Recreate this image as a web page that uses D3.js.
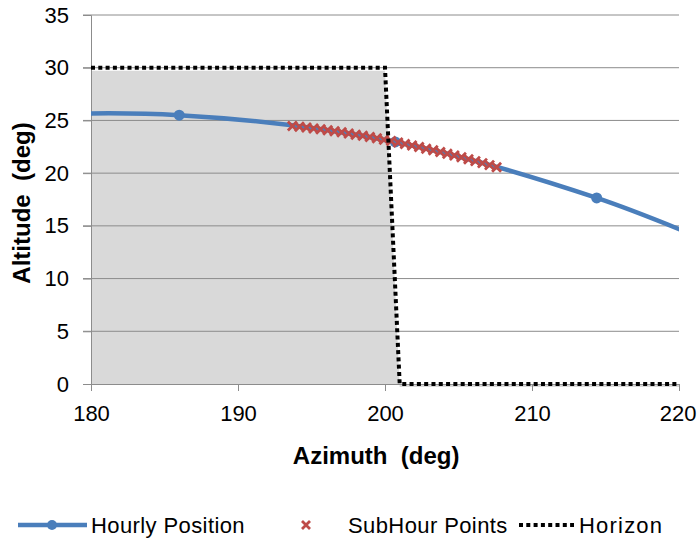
<!DOCTYPE html>
<html>
<head>
<meta charset="utf-8">
<script src="https://cdn.jsdelivr.net/npm/d3@7"></script>
<style>
  body { margin: 0; background: #fff; }
  svg text { font-family: "Liberation Sans", Arial, sans-serif; fill: #000; }
</style>
</head>
<body>
<div id="chart"></div>
<script>
// hourly sun positions (first/last lie outside the axes and get clipped)
const hourlyAz  = [157.5, 171.6, 186.0, 200.7, 214.4, 227.5, 239.0];
const hourlyAlt = [24.0, 25.3, 25.5, 22.96, 17.65, 10.5, 5.0];

// sub-hour points around the middle hour
const subAz  = [193.70, 194.18, 194.66, 195.14, 195.62, 196.10, 196.57, 197.05, 197.53, 198.01,
                198.49, 198.97, 199.45, 199.93, 200.41, 200.89, 201.36, 201.84, 202.32, 202.80,
                203.28, 203.76, 204.24, 204.72, 205.20, 205.68, 206.15, 206.63, 207.11, 207.59];
const subAlt = [24.48, 24.41, 24.33, 24.24, 24.16, 24.06, 23.97, 23.87, 23.76, 23.65,
                23.54, 23.42, 23.30, 23.17, 23.04, 22.91, 22.77, 22.62, 22.48, 22.32,
                22.17, 22.01, 21.84, 21.67, 21.50, 21.32, 21.14, 20.95, 20.76, 20.56];

// horizon profile
const horizonAz  = [180, 200, 201, 220];
const horizonAlt = [30, 30, 0, 0];

const xTicks = [180, 190, 200, 210, 220];
const yTicks = [0, 5, 10, 15, 20, 25, 30, 35];

const width = 697, height = 540;
const margin = { top: 15, right: 18, bottom: 156, left: 91 };
const innerWidth = width - margin.left - margin.right;
const innerHeight = height - margin.top - margin.bottom;

const blue = "#4a7ebb", red = "#be4b48";
const font = '"Liberation Sans", Arial, sans-serif';

const svgRoot = d3.select("#chart").append("svg")
    .attr("width", width)
    .attr("height", height);

const svg = svgRoot.append("g")
    .attr("transform", "translate(" + margin.left + "," + margin.top + ")");

svg.append("defs").append("clipPath").attr("id", "plotclip")
    .append("rect").attr("x", 0).attr("y", -5).attr("width", innerWidth).attr("height", innerHeight + 5);

var x = d3.scaleLinear().domain([180, 220]).range([0, innerWidth]);
var y = d3.scaleLinear().domain([0, 35]).range([innerHeight, 0]);

const hourly = hourlyAz.map((a, i) => ({ az: a, alt: hourlyAlt[i] }));
const sub = subAz.map((a, i) => ({ az: a, alt: subAlt[i] }));
const horizon = horizonAz.map((a, i) => ({ az: a, alt: horizonAlt[i] }));

// gray area under the horizon
svg.append("path")
    .datum(horizon)
    .attr("fill", "#d9d9d9")
    .attr("d", d3.area().x(d => x(d.az)).y0(y(0)).y1(d => y(d.alt) + 3));

// horizontal gridlines
svg.append("g")
    .selectAll("line")
    .data(yTicks.filter(d => d > 0))
    .enter().append("line")
    .attr("x1", -8).attr("x2", innerWidth)
    .attr("y1", d => y(d)).attr("y2", d => y(d))
    .attr("stroke", "#8c8c8c").attr("stroke-width", 1);

// Y axis
const yAxis = svg.append("g")
    .call(d3.axisLeft(y).tickValues(yTicks).tickSize(8).tickPadding(14).tickFormat(d3.format("d")));
yAxis.attr("font-family", font).attr("font-size", 22);
yAxis.select(".domain").attr("stroke", "#8c8c8c");
yAxis.selectAll(".tick line").attr("stroke", "#8c8c8c");

// X axis
const xAxis = svg.append("g")
    .attr("transform", "translate(0," + innerHeight + ")")
    .call(d3.axisBottom(x).tickValues(xTicks).tickSize(7).tickPadding(14).tickFormat(d3.format("d")));
xAxis.attr("font-family", font).attr("font-size", 22);
xAxis.select(".domain").attr("stroke", "#8c8c8c");
xAxis.selectAll(".tick line").attr("stroke", "#8c8c8c");
// keep the last tick label inside the page
xAxis.selectAll(".tick text").filter(d => d === 220).attr("text-anchor", "end").attr("dx", "17");

// axis titles
svg.append("text")
    .attr("text-anchor", "middle")
    .attr("x", x(199.4))
    .attr("y", innerHeight + 80)
    .style("font-size", "24px")
    .style("font-weight", "bold")
    .style("white-space", "pre")
    .text("Azimuth  (deg)");

svg.append("text")
    .attr("text-anchor", "middle")
    .attr("transform", "rotate(-90)")
    .attr("x", -(203 - margin.top))
    .attr("y", -margin.left + 30)
    .style("font-size", "24px")
    .style("font-weight", "bold")
    .style("white-space", "pre")
    .text("Altitude  (deg)");

// hourly position line
const plot = svg.append("g").attr("clip-path", "url(#plotclip)");

var line = d3.line()
    .x(d => x(d.az))
    .y(d => y(d.alt))
    .curve(d3.curveCatmullRom.alpha(0.5));

plot.append("path")
    .datum(hourly)
    .attr("fill", "none")
    .attr("stroke", blue)
    .attr("stroke-width", 4.5)
    .attr("d", line);

plot.append("g")
    .selectAll("circle")
    .data(hourly)
    .enter().append("circle")
    .attr("cx", d => x(d.az))
    .attr("cy", d => y(d.alt))
    .attr("r", 5.5)
    .attr("fill", blue);

// sub-hour crosses
const cross = function (sel, s) {
    sel.append("path")
        .attr("d", `M${-s},${-s}L${s},${s}M${-s},${s}L${s},${-s}`)
        .attr("stroke", red)
        .attr("stroke-width", 2.8)
        .attr("fill", "none");
};
plot.append("g")
    .selectAll("g")
    .data(sub)
    .enter().append("g")
    .attr("transform", d => "translate(" + x(d.az) + "," + y(d.alt) + ")")
    .each(function () { cross(d3.select(this), 4.5); });

// horizon dotted line
svg.append("path")
    .datum(horizon)
    .attr("fill", "none")
    .attr("stroke", "#000")
    .attr("stroke-width", 4)
    .attr("stroke-dasharray", "4,3.3")
    .attr("d", d3.line().x(d => x(d.az)).y(d => y(d.alt)));

// legend
const legend = svgRoot.append("g").attr("transform", "translate(0,525)");
legend.append("line").attr("x1", 18).attr("x2", 87).attr("y1", 0).attr("y2", 0)
    .attr("stroke", blue).attr("stroke-width", 4.5);
legend.append("circle").attr("cx", 52).attr("cy", 0).attr("r", 5).attr("fill", blue);
legend.append("text").attr("x", 91).attr("y", 8).style("font-size", "22px")
    .style("letter-spacing", "0.4px").text("Hourly Position");

legend.append("g").attr("transform", "translate(306,0)").call(g => cross(g, 4));
legend.append("text").attr("x", 348).attr("y", 8).style("font-size", "22px")
    .style("letter-spacing", "0.4px").text("SubHour Points");

legend.append("line").attr("x1", 519).attr("x2", 574).attr("y1", 0).attr("y2", 0)
    .attr("stroke", "#000").attr("stroke-width", 4).attr("stroke-dasharray", "4,3.3");
legend.append("text").attr("x", 579).attr("y", 8).style("font-size", "22px")
    .style("letter-spacing", "1.2px").text("Horizon");
</script>
</body>
</html>
